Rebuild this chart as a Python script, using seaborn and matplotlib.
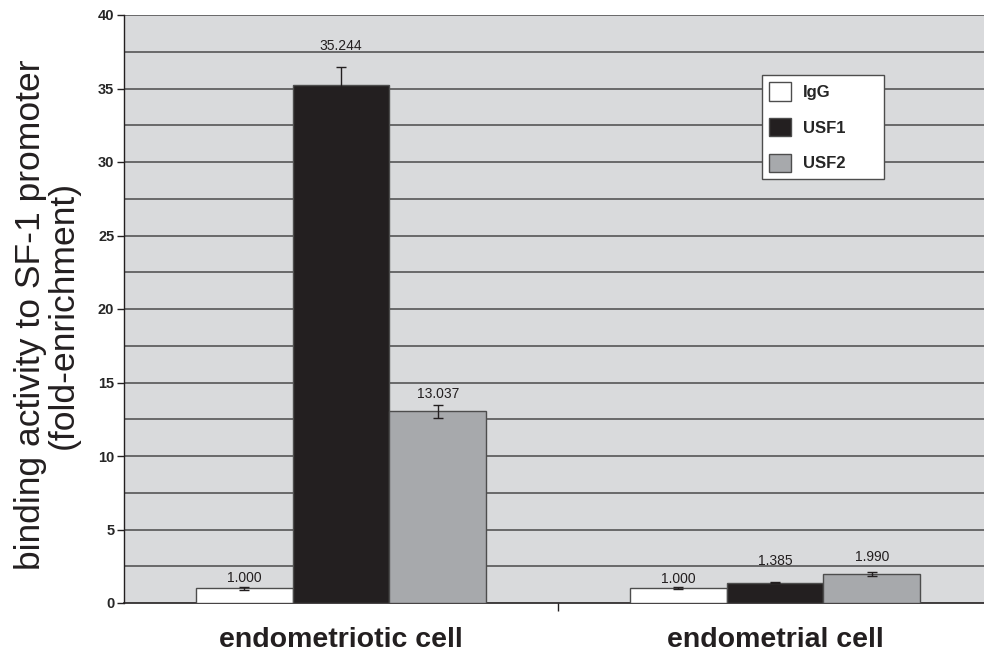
import matplotlib
matplotlib.use("Agg")
import matplotlib.pyplot as plt
import seaborn as sns
import pandas as pd
import numpy as np
from matplotlib.ticker import FixedLocator

# data
cells = ["endometriotic cell", "endometrial cell"]
antibodies = ["IgG", "USF1", "USF2"]
igg = [1.000, 1.000]
usf1 = [35.244, 1.385]
usf2 = [13.037, 1.990]
igg_err = [0.10, 0.06]
usf1_err = [1.22, 0.05]
usf2_err = [0.43, 0.12]
value_labels = {"IgG": ["1.000", "1.000"], "USF1": ["35.244", "1.385"], "USF2": ["13.037", "1.990"]}
y_ticks = [0, 5, 10, 15, 20, 25, 30, 35, 40]

values = {"IgG": igg, "USF1": usf1, "USF2": usf2}
errors = {"IgG": igg_err, "USF1": usf1_err, "USF2": usf2_err}
# vertical gap (points) between error bar top and its value label
label_gap = {"IgG": [1, 1], "USF1": [10, 10], "USF2": [2.6, 6]}

rows = []
for ab in antibodies:
    for i, c in enumerate(cells):
        rows.append({"cell": c, "antibody": ab, "fold": values[ab][i]})
df = pd.DataFrame(rows)

sns.set_theme(style="white")
plt.rcParams["font.family"] = ["Liberation Sans", "DejaVu Sans"]

fig = plt.figure(figsize=(9.84, 6.51), dpi=100)
ax = fig.add_axes([124 / 984, 48 / 651, 868 / 984, 588 / 651])
ax.set_facecolor("#d9dadc")

palette = {"IgG": "#ffffff", "USF1": "#231f20", "USF2": "#a7a9ac"}
sns.barplot(data=df, x="cell", y="fold", hue="antibody", order=cells,
            hue_order=antibodies, palette=palette, errorbar=None,
            width=0.67, edgecolor="#4d4d4d", linewidth=1.0, ax=ax,
            saturation=1, zorder=3)

ax.set_ylim(0, 40)
ax.set_xlim(-0.5, 1.5)

# gridlines every 2.5
for y in np.arange(2.5, 40.01, 2.5):
    ax.axhline(y, color="#4a4a4a", lw=1.1, zorder=1)

# error bars and value labels drawn from bar geometry
for ab, cont in zip(antibodies, ax.containers):
    for i, bar in enumerate(cont):
        xc = bar.get_x() + bar.get_width() / 2
        v = values[ab][i]
        e = errors[ab][i]
        ax.errorbar(xc, v, yerr=e, color="#231f20", lw=1.0, capsize=3.5,
                    capthick=1.0, zorder=4)
        ax.annotate(value_labels[ab][i], (xc, v + e), xytext=(0, label_gap[ab][i]),
                    textcoords="offset points", ha="center", va="bottom",
                    fontsize=10, color="#231f20", zorder=5)

# axes styling
for s in ["top", "right"]:
    ax.spines[s].set_visible(False)
ax.spines["left"].set_color("#231f20")
ax.spines["bottom"].set_color("#231f20")
ax.spines["left"].set_linewidth(1.0)
ax.spines["bottom"].set_linewidth(1.2)

ax.yaxis.set_major_locator(FixedLocator(y_ticks))
ax.set_yticklabels([str(t) for t in y_ticks], fontweight="bold", fontsize=10.5)
ax.tick_params(axis="y", direction="out", length=5, width=1, color="#231f20", pad=2, left=True)
ax.xaxis.set_minor_locator(FixedLocator([0.5]))
ax.tick_params(axis="x", which="major", length=0, pad=17)
ax.tick_params(axis="x", which="minor", direction="out", length=6, width=1, color="#231f20", bottom=True)
ax.set_xticks([0, 1])
ax.set_xticklabels(cells, fontweight="bold", fontsize=20.5, color="#231f20")
ax.set_xlabel("")
ax.set_ylabel("")
fig.text(47 / 984, 1 - 315 / 651, "binding activity to SF-1 promoter\n(fold-enrichment)",
         rotation=90, ha="center", va="center", fontsize=25.5, color="#231f20",
         linespacing=1.0, multialignment="center")

leg = ax.legend(loc="upper left", bbox_to_anchor=(0.735, 0.4, 0.141, 0.498),
                mode="expand", borderaxespad=0, frameon=True,
                fancybox=False, edgecolor="#4d4d4d", facecolor="white",
                framealpha=1, prop={"weight": "bold", "size": 12},
                handlelength=1.3, handleheight=1.3, labelspacing=1.05,
                borderpad=0.45, handletextpad=0.7)
leg.get_frame().set_linewidth(1.0)
leg.set_zorder(6)

fig.savefig("out.png", dpi=100)
